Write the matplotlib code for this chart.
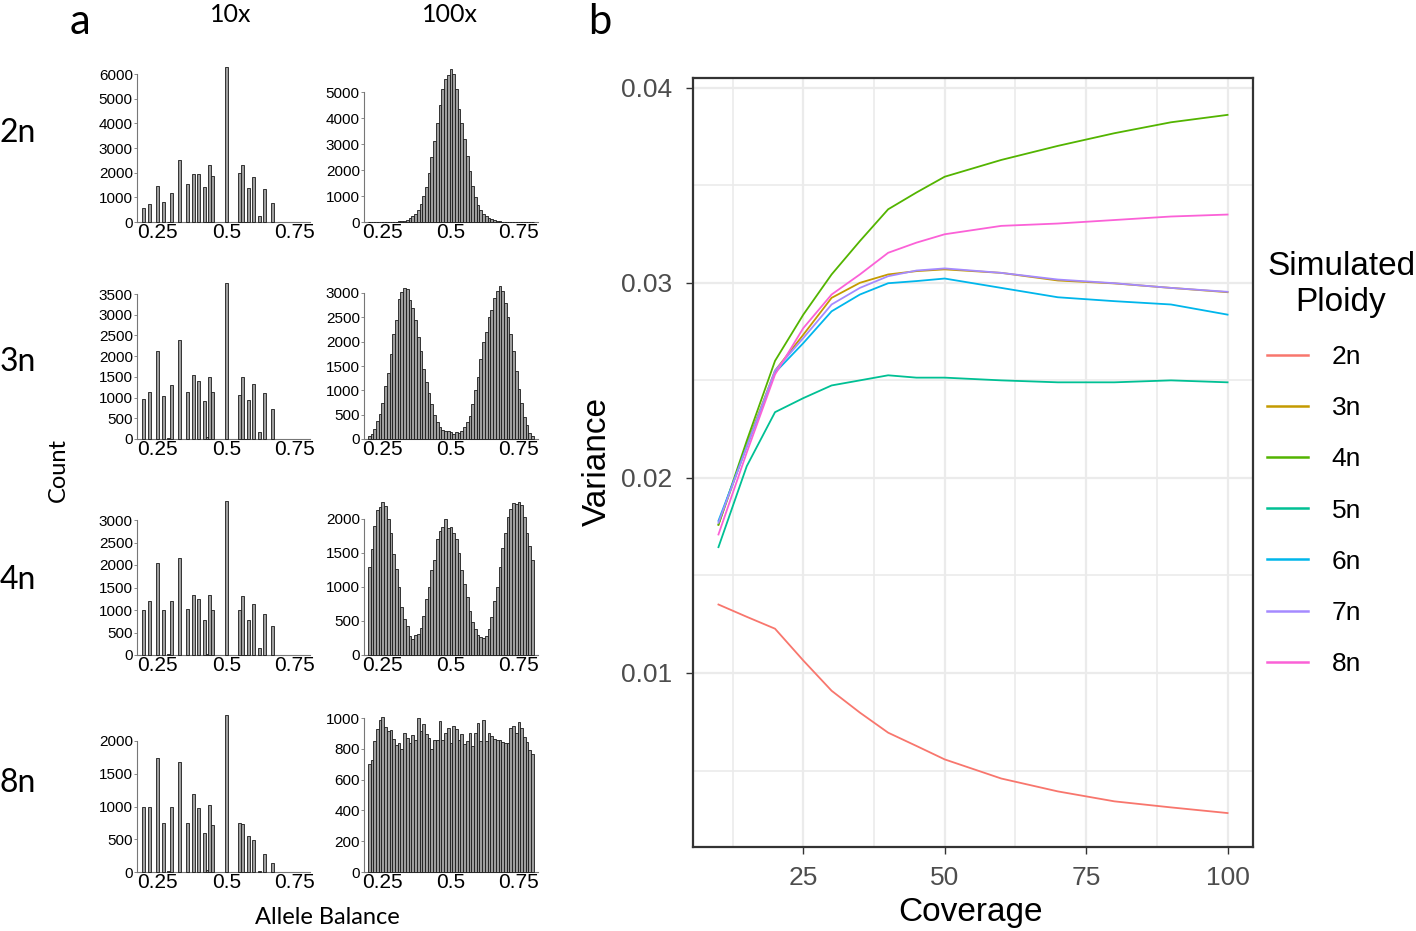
import matplotlib
matplotlib.use("Agg")
import matplotlib.pyplot as plt
import numpy as np

plt.rcParams["font.family"] = ["Liberation Sans", "DejaVu Sans"]

# ---- panel a data: allele balance histograms ----
ab_10x = [0.20, 0.22, 0.25, 0.27, 0.29, 0.30, 0.33, 0.36, 0.38, 0.40, 0.42, 0.43,
          0.44, 0.45, 0.50, 0.55, 0.56, 0.57, 0.58, 0.60, 0.62, 0.64, 0.67]
c10_2n = [570, 745, 1450, 813, 0, 1180, 2500, 1560, 1950, 1950, 1420, 0,
          2300, 1880, 6300, 1970, 2300, 0, 1380, 1830, 230, 1320, 790]
c10_3n = [970, 1130, 2130, 1030, 25, 1300, 2400, 1130, 1540, 1400, 910, 40,
          1500, 1130, 3760, 1070, 1500, 10, 930, 1330, 170, 1100, 720]
c10_4n = [1010, 1190, 2040, 1010, 15, 1190, 2160, 1030, 1330, 1240, 770, 30,
          1330, 990, 3430, 990, 1320, 0, 780, 1140, 155, 910, 640]
c10_8n = [1000, 1000, 1740, 750, 15, 990, 1680, 750, 1190, 980, 600, 25,
          1020, 720, 2390, 750, 730, 0, 550, 490, 15, 270, 145]

ab_100x = [round(0.20 + 0.01 * i, 2) for i in range(61)]
c100_2n = [0, 0, 0, 0, 0, 0, 0, 0, 0, 5,
           10, 20, 30, 55, 95, 150, 230, 320, 460, 680,
           1000, 1350, 1900, 2500, 3100, 3800, 4500, 5100, 5500, 5650,
           5900, 5700, 5100, 4350, 3800, 3200, 2550, 1950, 1400, 980,
           650, 480, 320, 230, 150, 100, 60, 35, 20, 10,
           5, 0, 0, 0, 0, 0, 0, 0, 0, 0, 0]
c100_3n = [70, 100, 200, 380, 520, 750, 1080, 1350, 1750, 2150,
           2450, 2870, 3030, 3100, 3080, 2850, 2700, 2450, 2100, 1800,
           1430, 1180, 950, 720, 500, 350, 250, 180, 170, 160,
           150, 110, 150, 130, 170, 250, 350, 480, 720, 1000,
           1280, 1650, 2000, 2200, 2500, 2650, 2900, 3050, 3150, 3050,
           2800, 2500, 2150, 1800, 1400, 1020, 750, 450, 280, 130, 70]
c100_4n = [1300, 1560, 1900, 2130, 2170, 2250, 2190, 2000, 1800, 1480,
           1270, 1000, 700, 530, 420, 280, 230, 300, 310, 400,
           580, 830, 1000, 1250, 1400, 1700, 1830, 1880, 2000, 1870,
           1880, 1800, 1700, 1500, 1250, 1050, 850, 650, 480, 380,
           300, 260, 250, 280, 380, 560, 800, 1000, 1300, 1580,
           1800, 2030, 2150, 2240, 2220, 2250, 2200, 2030, 1800, 1600, 1400]
c100_8n = [700, 730, 850, 930, 990, 1005, 940, 915, 925, 865,
           825, 835, 800, 905, 870, 840, 890, 855, 1000, 915,
           960, 895, 870, 800, 855, 855, 980, 860, 900, 935,
           840, 950, 930, 860, 895, 830, 850, 900, 820, 900,
           970, 850, 990, 850, 905, 880, 865, 860, 860, 845,
           840, 835, 935, 945, 905, 975, 935, 875, 845, 790, 765]

# ---- panel b data: variance vs coverage ----
coverage = [10, 15, 20, 25, 30, 35, 40, 45, 50, 60, 70, 80, 90, 100]
var_2n = [0.01351, 0.01288, 0.01227, 0.01064, 0.00909, 0.00797, 0.00694,
          0.00626, 0.00557, 0.00459, 0.00393, 0.00342, 0.00311, 0.00282]
var_3n = [0.0176, 0.0217, 0.0255, 0.02734, 0.02923, 0.0300, 0.03043,
          0.0306, 0.03069, 0.03051, 0.03012, 0.02997, 0.02974, 0.02952]
var_4n = [0.0176, 0.0219, 0.0260, 0.02837, 0.03043, 0.03214, 0.03377,
          0.03463, 0.03544, 0.0363, 0.03702, 0.03767, 0.03823, 0.03861]
var_5n = [0.01645, 0.0206, 0.02337, 0.02409, 0.02474, 0.0250, 0.02526,
          0.02514, 0.02514, 0.0250, 0.0249, 0.0249, 0.0250, 0.0249]
var_6n = [0.0178, 0.0216, 0.0254, 0.02691, 0.02854, 0.0294, 0.02998,
          0.03009, 0.03022, 0.02974, 0.02926, 0.02906, 0.02889, 0.02837]
var_7n = [0.0177, 0.0216, 0.0255, 0.02717, 0.02889, 0.02974, 0.03034,
          0.03063, 0.03074, 0.03051, 0.03017, 0.02998, 0.02974, 0.02954]
var_8n = [0.0171, 0.0213, 0.0253, 0.02768, 0.0294, 0.03043, 0.03154,
          0.03206, 0.03249, 0.03292, 0.03304, 0.03322, 0.0334, 0.0335]
ploidy = ["2n", "3n", "4n", "5n", "6n", "7n", "8n"]
colors = ["#F8766D", "#C49A00", "#53B400", "#00C094", "#00B6EB", "#A58AFF", "#FB61D7"]

W, H = 1416, 931
fig = plt.figure(figsize=(W / 100, H / 100), dpi=100)


def box(x0, y0, x1, y1):
    return fig.add_axes([x0 / W, 1 - y1 / H, (x1 - x0) / W, (y1 - y0) / H])


def hist_panel(x0, x1, ytop, ybot, xs, counts, ymax, ystep, xlim, width):
    ax = box(x0, ytop, x1, ybot)
    ax.bar(xs, counts, width=width, color="#9e9e9e", edgecolor="#1a1a1a",
           linewidth=0.6, clip_on=False, zorder=3)
    ax.set_xlim(*xlim)
    ax.set_ylim(0, ymax)
    ax.set_yticks(np.arange(0, ymax + 1, ystep))
    ax.set_xticks([0.25, 0.5, 0.75])
    ax.set_xticklabels(["0.25", "0.5", "0.75"])
    for s in ["top", "right"]:
        ax.spines[s].set_visible(False)
    for s in ["left", "bottom"]:
        ax.spines[s].set_color("#777777")
        ax.spines[s].set_linewidth(0.8)
    ax.tick_params(axis="x", length=0, pad=1, labelsize=15)
    ax.tick_params(axis="y", length=2, width=0.6, color="#777777", pad=1, labelsize=11)
    ax.patch.set_alpha(0)
    return ax


xl10 = (0.175, 0.805)
xl100 = (0.181, 0.82)
rows = [
    (222, 74, 6000, 1000, c10_2n, 92, 5000, 1000, c100_2n),
    (439, 294, 3500, 500, c10_3n, 293, 3000, 500, c100_3n),
    (655, 520, 3000, 500, c10_4n, 519, 2000, 500, c100_4n),
    (872, 741, 2000, 500, c10_8n, 718, 1000, 200, c100_8n),
]
for ybot, t10, m10, s10, d10, t100, m100, s100, d100 in rows:
    hist_panel(137, 310, t10, ybot, ab_10x, d10, m10, s10, xl10, 0.011)
    hist_panel(364, 538, t100, ybot, ab_100x, d100, m100, s100, xl100, 0.01)

lab_font = "Lato"
fig.text(80 / W, 1 - 22 / H, "a", fontsize=30, family=lab_font, ha="center", va="center")
fig.text(600 / W, 1 - 22 / H, "b", fontsize=30, family=lab_font, ha="center", va="center")
fig.text(231 / W, 1 - 15 / H, "10x", fontsize=18, family=lab_font, ha="center", va="center")
fig.text(450 / W, 1 - 15 / H, "100x", fontsize=18, family=lab_font, ha="center", va="center")
for lab, y in zip(["2n", "3n", "4n", "8n"], [133, 362, 580, 783]):
    fig.text(18 / W, 1 - y / H, lab, fontsize=23, family=lab_font, ha="center", va="center")
fig.text(58 / W, 1 - 470 / H, "Count", fontsize=17, family=lab_font, rotation=90,
         ha="center", va="center")
fig.text(327 / W, 1 - 918 / H, "Allele Balance", fontsize=17, family=lab_font,
         ha="center", va="center")

# ---- panel b ----
ax = box(693, 78, 1253, 847)
series = [var_2n, var_3n, var_4n, var_5n, var_6n, var_7n, var_8n]
for vals, name, col in zip(series, ploidy, colors):
    ax.plot(coverage, vals, color=col, lw=1.3, label=name, zorder=3)
ax.set_xlim(5.5, 104.5)
ax.set_ylim(0.00108, 0.0405)
ax.set_xticks([25, 50, 75, 100])
ax.set_yticks([0.01, 0.02, 0.03, 0.04])
ax.set_xticks([12.5, 37.5, 62.5, 87.5], minor=True)
ax.set_yticks([0.005, 0.015, 0.025, 0.035], minor=True)
ax.grid(True, which="major", color="#EBEBEB", lw=1.6, zorder=0)
ax.grid(True, which="minor", color="#EBEBEB", lw=1.2, zorder=0)
ax.tick_params(which="minor", length=0)
ax.tick_params(which="major", length=5, width=1, color="#333333",
               labelcolor="#4D4D4D", labelsize=19)
ax.tick_params(axis="y", pad=10)
ax.tick_params(axis="x", pad=9)
for s in ax.spines.values():
    s.set_color("#333333")
    s.set_linewidth(1.6)
fig.text(597 / W, 1 - 462 / H, "Variance", fontsize=24, rotation=90,
         ha="center", va="center")
fig.text(970 / W, 1 - 912 / H, "Coverage", fontsize=24, ha="center", va="center")

leg = ax.legend(loc="upper left", bbox_to_anchor=(1267 / W, 1 - 251 / H),
                bbox_transform=fig.transFigure, frameon=False,
                title="Simulated\nPloidy", title_fontsize=24,
                prop={"size": 19}, alignment="left",
                handlelength=1.55, handletextpad=0.9, labelspacing=1.03,
                borderpad=0, borderaxespad=0)
leg.get_title().set_multialignment("center")
for ln in leg.get_lines():
    ln.set_linewidth(1.8)

fig.savefig("out.png", dpi=100)
